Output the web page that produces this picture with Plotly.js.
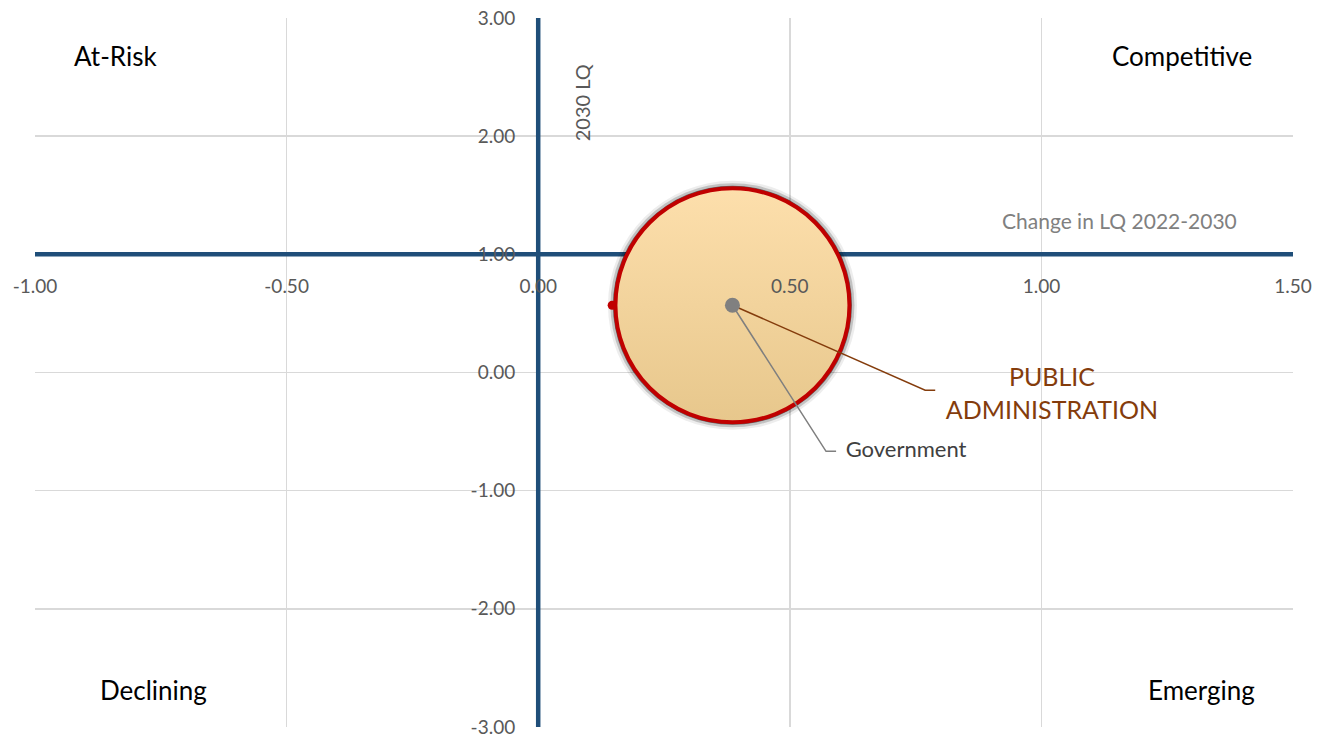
<!DOCTYPE html>
<html>
<head>
<meta charset="utf-8">
<script src="https://cdn.plot.ly/plotly-3.0.1.min.js"></script>
<style>html,body{margin:0;padding:0;background:#fff;}#chart{width:1327px;height:740px;}</style>
</head>
<body>
<div id="chart"></div>
<script>
// Data
var industries = ["PUBLIC ADMINISTRATION"];
var changeLQ = [0.386];      // Change in LQ 2022-2030 (x)
var lq2030 = [0.569];        // 2030 LQ (y)
var bubbleSize = [234];
var smallPointX = [0.147];
var smallPointY = [0.569];
var labelText = ["PUBLIC<br>ADMINISTRATION"];
var labelX = [1.021];
var labelY = [-0.2];
var elbowX = [0.769, 0.789];
var elbowY = [-0.15, -0.15];
var govText = ["Government"];
var govX = [0.611];
var govY = [-0.667];
var govElbowX = [0.572, 0.592];
var quadrants = ["At-Risk", "Competitive", "Declining", "Emerging"];
var xTicks = [-1.0, -0.5, 0.0, 0.5, 1.0, 1.5];
var xTickText = ["-1.00", "-0.50", "0.00", "0.50", "1.00", "1.50"];
var yTicks = [-3, -2, -1, 0, 1, 2, 3];
var yTickText = ["-3.00", "-2.00", "-1.00", "0.00", "1.00", "2.00", "3.00"];
var xRange = [-1, 1.5];
var yRange = [-3, 3];
var xCross = 0;   // y axis crosses x at
var yCross = 1;   // x axis crosses y at

var blue = '#1F4E79';
var fam = 'Lato, "Open Sans", sans-serif';
function grow(d, a) { return d.map(function (s) { return s + a; }); }
var traces = [
  // quadrant axis lines
  {x: [xCross, xCross], y: yRange, mode: 'lines', hoverinfo: 'skip', cliponaxis: false,
   line: {color: blue, width: 4.5}},
  {x: xRange, y: [yCross, yCross], mode: 'lines', hoverinfo: 'skip', cliponaxis: false,
   line: {color: blue, width: 4.5}},
  // shadow layers
  {x: changeLQ, y: lq2030, mode: 'markers', hoverinfo: 'skip',
   marker: {size: grow(bubbleSize, 15), color: 'rgba(0,0,0,0.07)', opacity: 1, line: {width: 0}}},
  {x: changeLQ, y: lq2030, mode: 'markers', hoverinfo: 'skip',
   marker: {size: grow(bubbleSize, 10), color: 'rgba(0,0,0,0.18)', opacity: 1, line: {width: 0}}},
  {x: changeLQ, y: lq2030, mode: 'markers', hoverinfo: 'skip',
   marker: {size: grow(bubbleSize, 5), color: 'rgba(0,0,0,0.5)', opacity: 1, line: {width: 0}}},
  // bubble
  {x: changeLQ, y: lq2030, mode: 'markers', hoverinfo: 'skip',
   marker: {size: bubbleSize, color: '#FDDFAC', opacity: 1, gradient: {type: 'vertical', color: '#E7C78C'},
            line: {color: '#C00000', width: 4}}},
  // small red point
  {x: smallPointX, y: smallPointY, mode: 'markers', hoverinfo: 'skip',
   marker: {size: 9, color: '#C00000', opacity: 1}},
  // leader to PUBLIC ADMINISTRATION
  {x: [changeLQ[0], elbowX[0], elbowX[1]], y: [lq2030[0], elbowY[0], elbowY[1]], mode: 'lines', hoverinfo: 'skip',
   line: {color: '#843C0C', width: 1.5}},
  // leader to Government
  {x: [changeLQ[0], govElbowX[0], govElbowX[1]], y: [lq2030[0], govY[0], govY[0]], mode: 'lines', hoverinfo: 'skip',
   line: {color: '#7F7F7F', width: 1.5}},
  // center dot
  {x: changeLQ, y: lq2030, mode: 'markers', hoverinfo: 'skip',
   marker: {size: 15, color: '#808080', opacity: 1}},
  // labels
  {x: labelX, y: labelY, mode: 'text', text: labelText, hoverinfo: 'skip',
   textfont: {family: fam, size: 25, color: '#843C0C'}},
  {x: govX, y: govY, mode: 'text', text: govText, textposition: 'middle right', hoverinfo: 'skip',
   textfont: {family: fam, size: 22, color: '#404040'}}
];

var font = {family: fam, size: 19, color: '#595959'};
var qfont = {family: fam, size: 26, color: '#000'};
var layout = {
  width: 1327, height: 740,
  margin: {l: 35, r: 34, t: 18, b: 13},
  paper_bgcolor: '#fff', plot_bgcolor: '#fff',
  showlegend: false,
  font: font,
  xaxis: {range: xRange, tickvals: xTicks, ticktext: xTickText, showgrid: true, gridcolor: '#D9D9D9', gridwidth: 1.5,
          zeroline: false, showline: false, anchor: 'free',
          position: (yCross - yRange[0]) / (yRange[1] - yRange[0]),
          ticks: '', ticklabelstandoff: 19, tickfont: font, fixedrange: true, layer: 'above traces'},
  yaxis: {range: yRange, tickvals: yTicks, ticktext: yTickText, showgrid: true, gridcolor: '#D9D9D9', gridwidth: 1.5,
          zeroline: false, showline: false, anchor: 'free',
          position: (xCross - xRange[0]) / (xRange[1] - xRange[0]),
          ticks: '', ticklabelstandoff: 23, tickfont: font, fixedrange: true, layer: 'above traces'},
  annotations: [
    {text: quadrants[0], xref: 'paper', yref: 'paper', x: 0.064, y: 0.946, xanchor: 'center', yanchor: 'middle', showarrow: false, font: qfont},
    {text: quadrants[1], xref: 'paper', yref: 'paper', x: 0.912, y: 0.946, xanchor: 'center', yanchor: 'middle', showarrow: false, font: qfont},
    {text: quadrants[2], xref: 'paper', yref: 'paper', x: 0.094, y: 0.052, xanchor: 'center', yanchor: 'middle', showarrow: false, font: qfont},
    {text: quadrants[3], xref: 'paper', yref: 'paper', x: 0.927, y: 0.052, xanchor: 'center', yanchor: 'middle', showarrow: false, font: qfont},
    {text: '2030 LQ', xref: 'paper', yref: 'paper', x: 0.435, y: 0.88, xanchor: 'center', yanchor: 'middle', textangle: -90, showarrow: false,
     font: {family: fam, size: 20, color: '#595959'}},
    {text: 'Change in LQ 2022-2030', xref: 'paper', yref: 'paper', x: 0.862, y: 0.715, xanchor: 'center', yanchor: 'middle', showarrow: false,
     font: {family: fam, size: 21, color: '#808080'}}
  ]
};

Plotly.newPlot('chart', traces, layout, {displayModeBar: false, staticPlot: true});
</script>
</body>
</html>
